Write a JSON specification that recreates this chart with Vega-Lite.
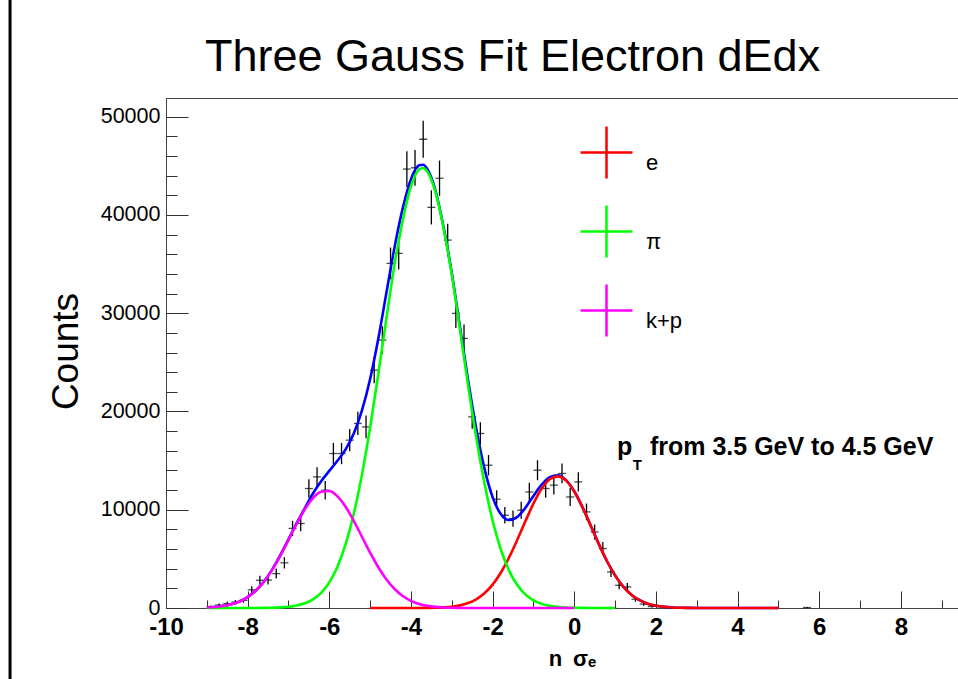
{
  "$schema": "https://vega.github.io/schema/vega-lite/v6.json",
  "width": 792,
  "height": 510,
  "autosize": {"type": "none"},
  "padding": {"left": 166, "top": 98, "right": 0, "bottom": 71},
  "background": "white",
  "config": {"view": {"stroke": "#444", "strokeWidth": 1}, "font": "Liberation Sans"},
  "datasets": {
    "pts": [
      {"x": -8.9, "y": 150, "lo": 45, "hi": 255}, {"x": -8.7, "y": 300, "lo": 150, "hi": 450}, {"x": -8.5, "y": 450, "lo": 270, "hi": 630}, {"x": -8.3, "y": 600, "lo": 390, "hi": 810},
      {"x": -8.1, "y": 780, "lo": 540, "hi": 1020}, {"x": -7.9, "y": 1850, "lo": 1480, "hi": 2220}, {"x": -7.7, "y": 2820, "lo": 2363, "hi": 3277}, {"x": -7.5, "y": 2850, "lo": 2391, "hi": 3309},
      {"x": -7.3, "y": 3500, "lo": 2991, "hi": 4009}, {"x": -7.1, "y": 4600, "lo": 4017, "hi": 5183}, {"x": -6.9, "y": 8100, "lo": 7326, "hi": 8874}, {"x": -6.7, "y": 8600, "lo": 7802, "hi": 9398},
      {"x": -6.5, "y": 12160, "lo": 11212, "hi": 13108}, {"x": -6.3, "y": 13340, "lo": 12347, "hi": 14333}, {"x": -6.1, "y": 11990, "lo": 11048, "hi": 12932}, {"x": -5.9, "y": 15720, "lo": 14642, "hi": 16798},
      {"x": -5.7, "y": 15720, "lo": 14642, "hi": 16798}, {"x": -5.5, "y": 17080, "lo": 15956, "hi": 18204}, {"x": -5.3, "y": 18780, "lo": 17601, "hi": 19959}, {"x": -5.1, "y": 18430, "lo": 17262, "hi": 19598},
      {"x": -4.9, "y": 24200, "lo": 22862, "hi": 25538}, {"x": -4.7, "y": 27260, "lo": 25840, "hi": 28680}, {"x": -4.5, "y": 35070, "lo": 33459, "hi": 36681}, {"x": -4.3, "y": 36090, "lo": 34456, "hi": 37724},
      {"x": -4.1, "y": 44670, "lo": 42852, "hi": 46488}, {"x": -3.9, "y": 44800, "lo": 42980, "hi": 46620}, {"x": -3.7, "y": 47700, "lo": 45822, "hi": 49578}, {"x": -3.5, "y": 40770, "lo": 39034, "hi": 42506},
      {"x": -3.3, "y": 43730, "lo": 41932, "hi": 45528}, {"x": -3.1, "y": 37440, "lo": 35776, "hi": 39104}, {"x": -2.9, "y": 29980, "lo": 28491, "hi": 31469}, {"x": -2.7, "y": 27430, "lo": 26006, "hi": 28854},
      {"x": -2.5, "y": 19450, "lo": 18251, "hi": 20649}, {"x": -2.3, "y": 17760, "lo": 16614, "hi": 18906}, {"x": -2.1, "y": 14530, "lo": 13493, "hi": 15567}, {"x": -1.9, "y": 11070, "lo": 10165, "hi": 11975},
      {"x": -1.7, "y": 9440, "lo": 8604, "hi": 10276}, {"x": -1.5, "y": 9100, "lo": 8280, "hi": 9920}, {"x": -1.3, "y": 9950, "lo": 9092, "hi": 10808}, {"x": -1.1, "y": 11810, "lo": 10875, "hi": 12745},
      {"x": -0.9, "y": 14020, "lo": 13002, "hi": 15038}, {"x": -0.7, "y": 12160, "lo": 11212, "hi": 13108}, {"x": -0.5, "y": 12500, "lo": 11538, "hi": 13462}, {"x": -0.3, "y": 13690, "lo": 12684, "hi": 14696},
      {"x": -0.1, "y": 11300, "lo": 10386, "hi": 12214}, {"x": 0.1, "y": 12830, "lo": 11856, "hi": 13804}, {"x": 0.3, "y": 9780, "lo": 8930, "hi": 10630}, {"x": 0.5, "y": 7740, "lo": 6983, "hi": 8497},
      {"x": 0.7, "y": 6050, "lo": 5381, "hi": 6719}, {"x": 0.9, "y": 3670, "lo": 3149, "hi": 4191}, {"x": 1.1, "y": 2310, "lo": 1897, "hi": 2723}, {"x": 1.3, "y": 2140, "lo": 1742, "hi": 2538},
      {"x": 1.5, "y": 900, "lo": 642, "hi": 1158}, {"x": 1.7, "y": 400, "lo": 228, "hi": 572}, {"x": 1.9, "y": 150, "lo": 45, "hi": 255}, {"x": 5.7, "y": 50, "lo": 0, "hi": 111}
    ],
    "fit": [
      {"x": -9.0, "tot": 49, "e": null, "pi": 0, "kp": 49},
      {"x": -8.8, "tot": 101, "e": null, "pi": 0, "kp": 101},
      {"x": -8.6, "tot": 198, "e": null, "pi": 0, "kp": 198},
      {"x": -8.4, "tot": 371, "e": null, "pi": 0, "kp": 370},
      {"x": -8.2, "tot": 657, "e": null, "pi": 1, "kp": 656},
      {"x": -8.0, "tot": 1108, "e": null, "pi": 2, "kp": 1106},
      {"x": -7.8, "tot": 1775, "e": null, "pi": 5, "kp": 1770},
      {"x": -7.6, "tot": 2701, "e": null, "pi": 12, "kp": 2689},
      {"x": -7.4, "tot": 3907, "e": null, "pi": 27, "kp": 3880},
      {"x": -7.2, "tot": 5376, "e": null, "pi": 59, "kp": 5317},
      {"x": -7.0, "tot": 6990, "e": null, "pi": 124, "kp": 6919},
      {"x": -6.8, "tot": 8640, "e": null, "pi": 249, "kp": 8550},
      {"x": -6.6, "tot": 10150, "e": null, "pi": 478, "kp": 10036},
      {"x": -6.4, "tot": 11650, "e": null, "pi": 879, "kp": 11185},
      {"x": -6.2, "tot": 12900, "e": null, "pi": 1548, "kp": 11839},
      {"x": -6.0, "tot": 13950, "e": null, "pi": 2609, "kp": 11901},
      {"x": -5.8, "tot": 14980, "e": null, "pi": 4209, "kp": 11360},
      {"x": -5.6, "tot": 16150, "e": null, "pi": 6496, "kp": 10298},
      {"x": -5.4, "tot": 17750, "e": null, "pi": 9597, "kp": 8866},
      {"x": -5.2, "tot": 20100, "e": null, "pi": 13573, "kp": 7248},
      {"x": -5.0, "tot": 23300, "e": 0, "pi": 18370, "kp": 5627},
      {"x": -4.8, "tot": 27400, "e": 0, "pi": 23795, "kp": 4149},
      {"x": -4.6, "tot": 32100, "e": 0, "pi": 29499, "kp": 2905},
      {"x": -4.4, "tot": 36750, "e": 0, "pi": 35002, "kp": 1931},
      {"x": -4.2, "tot": 40691, "e": 1, "pi": 39469, "kp": 1220},
      {"x": -4.0, "tot": 43635, "e": 2, "pi": 42899, "kp": 732},
      {"x": -3.8, "tot": 45049, "e": 5, "pi": 44627, "kp": 417},
      {"x": -3.7, "tot": 45100, "e": 8, "pi": 44784, "kp": 308},
      {"x": -3.6, "tot": 44668, "e": 12, "pi": 44431, "kp": 225},
      {"x": -3.4, "tot": 42485, "e": 29, "pi": 42340, "kp": 116},
      {"x": -3.2, "tot": 38735, "e": 64, "pi": 38615, "kp": 56},
      {"x": -3.0, "tot": 34102, "e": 134, "pi": 33942, "kp": 26},
      {"x": -2.8, "tot": 28635, "e": 266, "pi": 28358, "kp": 11},
      {"x": -2.6, "tot": 23177, "e": 500, "pi": 22672, "kp": 5},
      {"x": -2.4, "tot": 18241, "e": 889, "pi": 17350, "kp": 2},
      {"x": -2.2, "tot": 14206, "e": 1496, "pi": 12709, "kp": 1},
      {"x": -2.0, "tot": 11288, "e": 2381, "pi": 8907, "kp": 0},
      {"x": -1.8, "tot": 9563, "e": 3587, "pi": 5976, "kp": 0},
      {"x": -1.6, "tot": 8950, "e": 5112, "pi": 3838, "kp": 0},
      {"x": -1.4, "tot": 9253, "e": 6894, "pi": 2359, "kp": 0},
      {"x": -1.2, "tot": 10183, "e": 8796, "pi": 1387, "kp": 0},
      {"x": -1.0, "tot": 11398, "e": 10617, "pi": 781, "kp": 0},
      {"x": -0.8, "tot": 12547, "e": 12126, "pi": 421, "kp": 0},
      {"x": -0.6, "tot": 13319, "e": 13102, "pi": 217, "kp": 0},
      {"x": -0.4, "tot": 13503, "e": 13396, "pi": 107, "kp": 0},
      {"x": -0.2, "tot": 13010, "e": 12959, "pi": 51, "kp": 0},
      {"x": 0.0, "tot": 11883, "e": 11860, "pi": 23, "kp": 0},
      {"x": 0.2, "tot": 10280, "e": 10270, "pi": 10, "kp": null},
      {"x": 0.4, "tot": 8419, "e": 8415, "pi": 4, "kp": null},
      {"x": 0.6, "tot": 6525, "e": 6523, "pi": 2, "kp": null},
      {"x": 0.8, "tot": 4785, "e": 4784, "pi": 1, "kp": null},
      {"x": 1.0, "tot": 3319, "e": 3319, "pi": 0, "kp": null},
      {"x": 1.2, "tot": 2179, "e": 2179, "pi": null, "kp": null},
      {"x": 1.4, "tot": 1354, "e": 1354, "pi": null, "kp": null},
      {"x": 1.6, "tot": 796, "e": 796, "pi": null, "kp": null},
      {"x": 1.8, "tot": 442, "e": 442, "pi": null, "kp": null},
      {"x": 2.0, "tot": 233, "e": 233, "pi": null, "kp": null},
      {"x": 2.2, "tot": 116, "e": 116, "pi": null, "kp": null},
      {"x": 2.4, "tot": 55, "e": 55, "pi": null, "kp": null},
      {"x": 2.6, "tot": 24, "e": 24, "pi": null, "kp": null},
      {"x": 2.8, "tot": 10, "e": 10, "pi": null, "kp": null},
      {"x": 3.0, "tot": 4, "e": 4, "pi": null, "kp": null},
      {"x": 3.4, "tot": 1, "e": 1, "pi": null, "kp": null},
      {"x": 4.0, "tot": 0, "e": 0, "pi": null, "kp": null},
      {"x": 5.0, "tot": 0, "e": 0, "pi": null, "kp": null}
    ],
    "note": [{"label": "annotation"}]
  },
  "resolve": {"axis": {"y": "independent"}},
  "layer": [
    {
      "layer": [
        {
          "data": {"name": "pts"},
          "mark": {"type": "tick", "orient": "horizontal", "size": 8, "thickness": 1.3, "color": "black"},
          "encoding": {
            "x": {"field": "x", "type": "quantitative",
              "scale": {"domain": [-10, 9.4], "nice": false, "zero": false},
              "axis": {
                "title": "n\u2002σₑ", "titleFontSize": 22, "titleFontWeight": "bold", "titleFont": "Liberation Sans", "titleColor": "black",
                "titleX": 406, "titleY": 57, "titleBaseline": "alphabetic", "titleAlign": "center",
                "values": [-10, -9.5, -9, -8.5, -8, -7.5, -7, -6.5, -6, -5.5, -5, -4.5, -4, -3.5, -3, -2.5, -2, -1.5, -1, -0.5, 0, 0.5, 1, 1.5, 2, 2.5, 3, 3.5, 4, 4.5, 5, 5.5, 6, 6.5, 7, 7.5, 8, 8.5, 9],
                "labelExpr": "datum.value % 2 == 0 ? '' + datum.value : ''",
                "labelFontSize": 24, "labelFontWeight": "bold", "labelFont": "Liberation Sans", "labelColor": "black",
                "labelBaseline": "top", "labelPadding": 24, "labelFlush": false, "labelOverlap": false,
                "tickSize": {"condition": {"test": "datum.value % 2 == 0", "value": -17}, "value": -8},
                "tickColor": "#333", "tickWidth": 1, "domainColor": "#444", "grid": false
              }
            },
            "y": {"field": "y", "type": "quantitative",
              "scale": {"domain": [0, 51900], "nice": false, "zero": false},
              "axis": {
                "orient": "left",
                "title": "Counts", "titleFontSize": 37, "titleFontWeight": "normal", "titleFont": "Liberation Sans", "titleColor": "black",
                "titleX": -89, "titleY": 253, "titleAngle": -90, "titleBaseline": "alphabetic", "titleAlign": "center",
                "values": [0, 10000, 20000, 30000, 40000, 50000],
                "labelExpr": "'' + datum.value",
                "labelFontSize": 21.5, "labelFont": "Liberation Sans", "labelColor": "black",
                "labelPadding": 28, "labelFlush": false, "labelOverlap": false,
                "tickSize": -22,
                "tickColor": "#333", "tickWidth": 1, "domainColor": "#444", "grid": false
              }
            }
          }
        },
        {
          "data": {"name": "pts"},
          "mark": {"type": "rule", "color": "black", "strokeWidth": 1.3},
          "encoding": {
            "x": {"field": "x", "type": "quantitative"},
            "y": {"field": "lo", "type": "quantitative"},
            "y2": {"field": "hi"}
          }
        },
        {
          "data": {"name": "fit"},
          "mark": {"type": "line", "color": "#0000ff", "strokeWidth": 2.6, "interpolate": "monotone"},
          "encoding": {
            "x": {"field": "x", "type": "quantitative"},
            "y": {"field": "tot", "type": "quantitative"}
          }
        },
        {
          "data": {"name": "fit"},
          "mark": {"type": "line", "strokeWidth": 2.6, "interpolate": "monotone"},
          "encoding": {
            "x": {"field": "x", "type": "quantitative"},
            "y": {"field": "e", "type": "quantitative"},
            "color": {"datum": "e", "type": "nominal",
              "scale": {"domain": ["e", "π", "k+p"], "range": ["#ff0000", "#00ff00", "#ff00ff"]},
              "legend": {"orient": "none", "legendX": 413, "legendY": 27, "title": null, "padding": 0,
                "symbolType": "M-1,0L1,0M0,-1L0,1", "symbolSize": 2700, "symbolStrokeWidth": 2.5, "symbolFillColor": "transparent",
                "labelFontSize": 22, "labelFont": "Liberation Sans", "labelColor": "black", "labelOffset": 12, "labelBaseline": "top",
                "rowPadding": 16}
            }
          }
        },
        {
          "data": {"name": "fit"},
          "mark": {"type": "line", "strokeWidth": 2.6, "interpolate": "monotone"},
          "encoding": {
            "x": {"field": "x", "type": "quantitative"},
            "y": {"field": "pi", "type": "quantitative"},
            "color": {"datum": "π", "type": "nominal"}
          }
        },
        {
          "data": {"name": "fit"},
          "mark": {"type": "line", "strokeWidth": 2.6, "interpolate": "monotone"},
          "encoding": {
            "x": {"field": "x", "type": "quantitative"},
            "y": {"field": "kp", "type": "quantitative"},
            "color": {"datum": "k+p", "type": "nominal"}
          }
        },
        {
          "data": {"name": "note"},
          "mark": {"type": "rule", "color": "black", "strokeWidth": 3},
          "encoding": {
            "x": {"datum": -13.82, "type": "quantitative"},
            "y": {"datum": -7300, "type": "quantitative"},
            "y2": {"datum": 62000}
          }
        },
        {
          "data": {"name": "note"},
          "mark": {"type": "text", "text": "Three Gauss Fit Electron dEdx", "fontSize": 45, "fontWeight": "normal", "font": "Liberation Sans", "align": "center", "baseline": "alphabetic", "color": "black"},
          "encoding": {
            "x": {"datum": -1.512, "type": "quantitative"},
            "y": {"datum": 54645, "type": "quantitative"}
          }
        },
        {
          "data": {"name": "note"},
          "mark": {"type": "text", "text": "p", "fontSize": 25, "fontWeight": "bold", "font": "Liberation Sans", "align": "left", "baseline": "alphabetic", "color": "black"},
          "encoding": {
            "x": {"datum": 1.05, "type": "quantitative"},
            "y": {"datum": 15571, "type": "quantitative"}
          }
        },
        {
          "data": {"name": "note"},
          "mark": {"type": "text", "text": "T", "fontSize": 15, "fontWeight": "bold", "font": "Liberation Sans", "align": "left", "baseline": "alphabetic", "color": "black"},
          "encoding": {
            "x": {"datum": 1.43, "type": "quantitative"},
            "y": {"datum": 14044, "type": "quantitative"}
          }
        },
        {
          "data": {"name": "note"},
          "mark": {"type": "text", "text": "from 3.5 GeV to 4.5 GeV", "fontSize": 25, "fontWeight": "bold", "font": "Liberation Sans", "align": "left", "baseline": "alphabetic", "color": "black"},
          "encoding": {
            "x": {"datum": 1.854, "type": "quantitative"},
            "y": {"datum": 15571, "type": "quantitative"}
          }
        }
      ]
    },
    {
      "data": {"name": "note"},
      "mark": {"type": "point", "opacity": 0},
      "encoding": {
        "y": {"datum": 0, "type": "quantitative",
          "axis": {"orient": "left", "title": null, "labels": false, "domain": false, "grid": false,
            "values": [2000, 4000, 6000, 8000, 12000, 14000, 16000, 18000, 22000, 24000, 26000, 28000, 32000, 34000, 36000, 38000, 42000, 44000, 46000, 48000],
            "tickSize": -11, "tickColor": "#333", "tickWidth": 1}
        }
      }
    }
  ]
}
